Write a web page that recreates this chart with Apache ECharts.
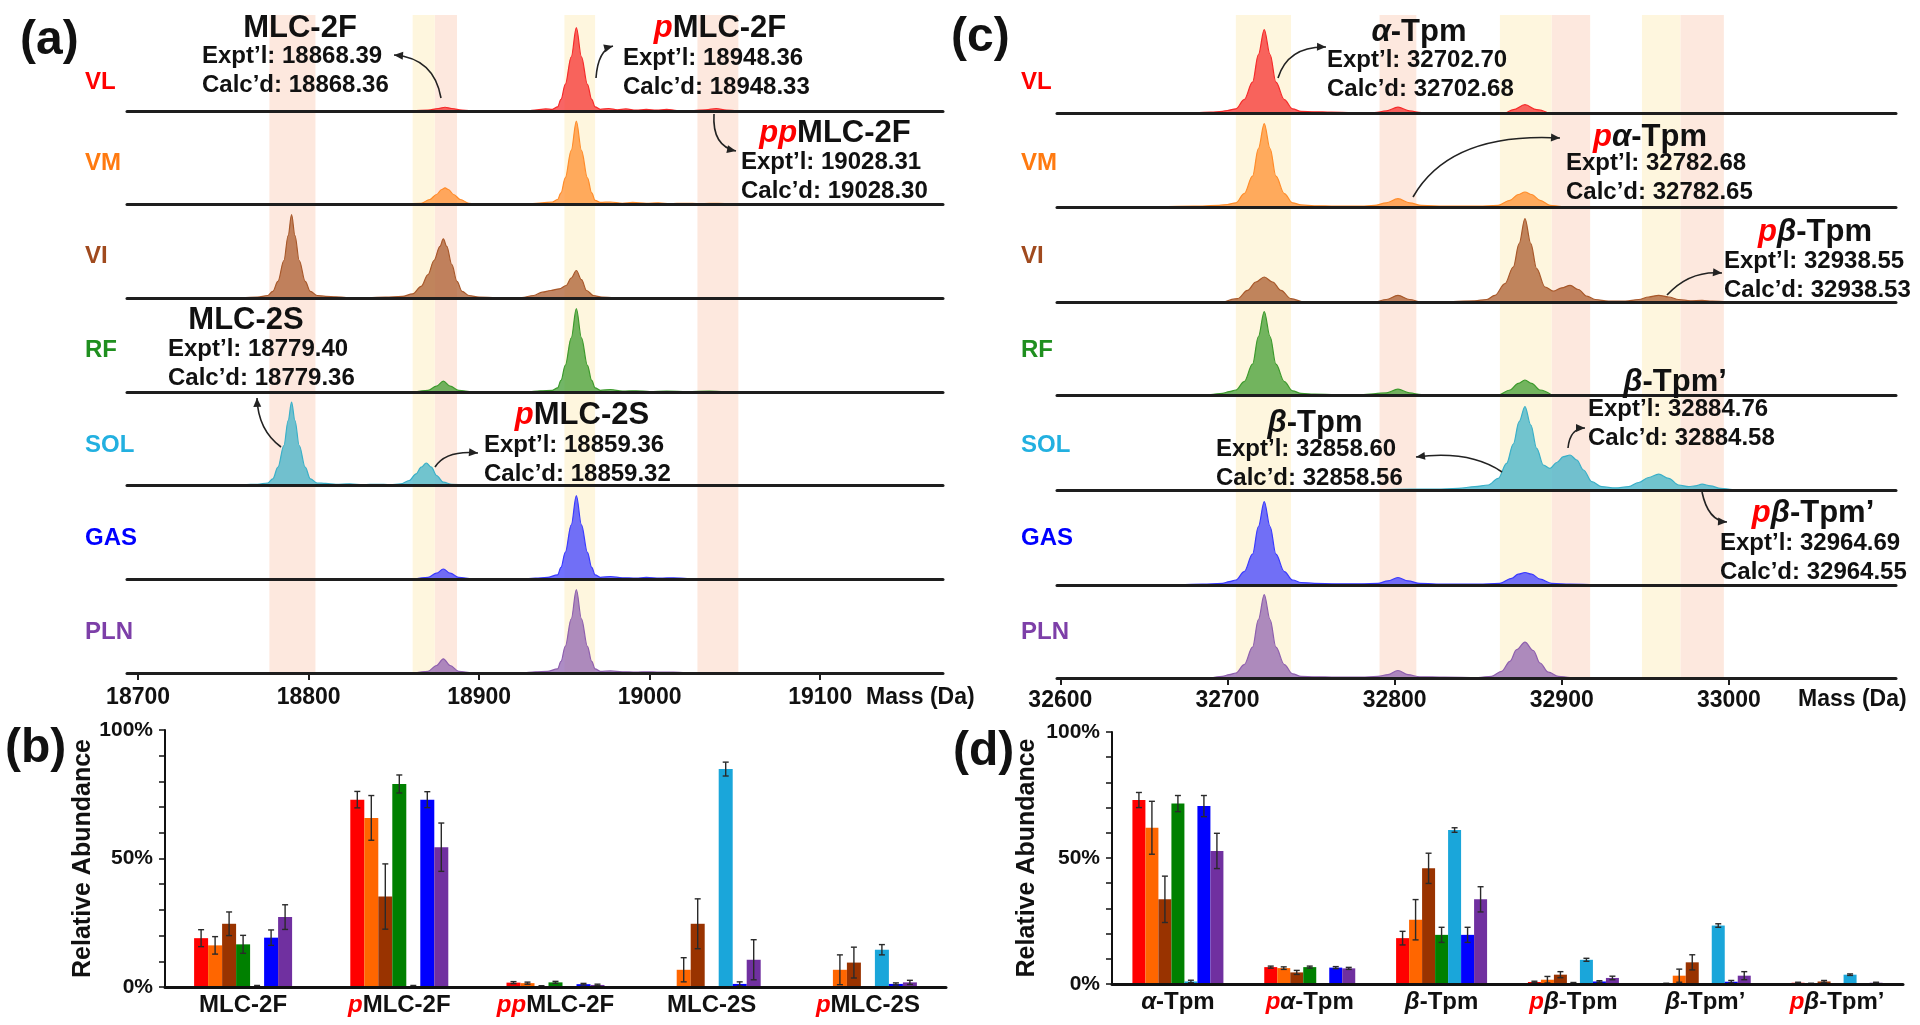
<!DOCTYPE html>
<html>
<head>
<meta charset="utf-8">
<title>MLC-2 and Tpm proteoforms</title>
<script src="https://cdn.jsdelivr.net/npm/echarts@6/dist/echarts.min.js"></script>
<style>
html,body{margin:0;padding:0;background:#fff;}
#chart{width:1920px;height:1025px;}
</style>
</head>
<body>
<div id="chart"></div>
<script>
// ---- data ----
var traceNames = ['VL', 'VM', 'VI', 'RF', 'SOL', 'GAS', 'PLN'];
var massTicksA = [18700, 18800, 18900, 19000, 19100];
var massTicksC = [32600, 32700, 32800, 32900, 33000];

var salmonBandsA = [[18777, 18804], [18874, 18887], [19028, 19052]];
var yellowBandsA = [[18861, 18874], [18950, 18968]];
var salmonBandsC = [[32791, 32813], [32894, 32917], [32971, 32997]];
var yellowBandsC = [[32705, 32738], [32863, 32894], [32948, 32971]];

// spectra (mass in Da, normalised intensity)
var specA_VL = [[18860,0],[18870,1],[18876,3],[18880,4.5],[18884,3],[18890,1],[18898,0],[18928,0],[18934,1.5],[18939,2.5],[18943,2],[18946,5],[18948,14],[18950.5,32],[18954,65],[18957,100],[18960,65],[18963.5,32],[18966,14],[18968,5],[18971,2],[18976,3],[18981,1.5],[18986,2.5],[18992,1],[18998,2],[19004,1],[19010,2],[19016,0.5],[19026,0.5],[19033,1.5],[19039,3],[19045,1],[19052,0]];
var specA_VM = [[18855,0],[18866,1.5],[18871,6],[18875,12],[18878,18],[18880,20],[18882,18],[18885,12],[18889,6],[18894,1.5],[18902,0],[18920,0.5],[18930,1],[18937,2],[18943,3],[18946,6],[18948,14],[18950.5,32],[18954,65],[18957,100],[18960,65],[18963.5,32],[18966,14],[18968,5],[18971,2.5],[18977,3],[18984,1.5],[18990,2.5],[18998,1.5],[19005,2],[19012,1],[19020,1.5],[19030,1],[19040,1.5],[19048,0.5],[19055,0]];
var specA_VI = [[18760,0],[18770,1],[18776,3],[18779,8],[18782,20],[18785.5,45],[18788,75],[18790,100],[18792,75],[18794.5,45],[18798,20],[18801,8],[18805,3],[18810,2],[18816,1.5],[18822,0.5],[18835,0.5],[18845,1],[18855,2],[18861,5],[18866,14],[18870,28],[18873.5,45],[18877,62],[18879,71],[18881,62],[18884,40],[18887,20],[18890,8],[18894,3],[18900,1],[18910,0.5],[18925,0.5],[18932,3],[18937,7],[18942,9],[18947,11],[18951,15],[18954,24],[18957,33],[18960,22],[18963,9],[18967,3],[18972,1],[18980,0]];
var specA_RF = [[18862,0],[18870,2],[18875,7],[18879,13],[18883,7],[18888,2],[18896,0],[18928,0],[18936,1.5],[18943,2],[18946,5],[18948,14],[18950.5,32],[18954,65],[18957,100],[18960,65],[18963.5,32],[18966,14],[18968,5],[18971,2],[18977,3],[18984,1],[18992,1.5],[19000,0.5],[19010,1],[19022,0.5],[19035,1],[19045,0]];
var specA_SOL = [[18750,0],[18762,1],[18770,1.5],[18776,3],[18779,8],[18782,22],[18785.5,48],[18788,78],[18790,100],[18792,78],[18794.5,48],[18798,22],[18801,8],[18805,3],[18810,2.5],[18816,1.5],[18824,2],[18832,1],[18840,1.5],[18848,1],[18854,2],[18859,6],[18863,14],[18866,22],[18869,27],[18872,22],[18875,12],[18879,4],[18884,1.5],[18892,0.5],[18902,1],[18912,0.5],[18920,0]];
var specA_GAS = [[18862,0],[18870,2],[18875,7],[18879,12],[18883,7],[18888,2],[18896,0],[18925,0],[18933,1],[18940,2],[18946,5],[18948,14],[18950.5,32],[18954,65],[18957,100],[18960,65],[18963.5,32],[18966,14],[18968,5],[18971,2],[18977,3],[18984,1.5],[18992,1],[18998,2],[19006,1],[19014,1.5],[19022,0.5],[19030,0]];
var specA_PLN = [[18862,0],[18870,2],[18875,9],[18879,17],[18883,9],[18888,2],[18896,0],[18925,0],[18933,1.5],[18940,2],[18946,5],[18948,14],[18950.5,32],[18954,65],[18957,100],[18960,65],[18963.5,32],[18966,14],[18968,5],[18971,2],[18977,2.5],[18984,1.5],[18992,1],[18998,1.5],[19006,1],[19014,1],[19022,0]];

var specC_VL = [[32680,0],[32690,1],[32697,2],[32700,3],[32705,5],[32710,16],[32715,37],[32718.5,70],[32722,100],[32725.5,70],[32729,37],[32734,16],[32739,5],[32744,2],[32752,1.5],[32762,1],[32775,0.5],[32788,0.5],[32795,2.5],[32802,7],[32809,2.5],[32816,0.5],[32830,0.5],[32845,0],[32866,0],[32871,4],[32878,10],[32885,4],[32892,0]];
var specC_VM = [[32645,0],[32660,0.5],[32680,1],[32695,2],[32700,3],[32705,5],[32710,16],[32715,37],[32718.5,70],[32722,100],[32725.5,70],[32729,37],[32734,16],[32739,5],[32744,2.5],[32752,1.5],[32765,1],[32780,1],[32788,2],[32795,5],[32802,10],[32809,5],[32816,2],[32830,1],[32850,1],[32862,2],[32869,8],[32874,15],[32878,18],[32882,15],[32887,8],[32893,2],[32900,0.5],[32915,0]];
var specC_VI = [[32698,0],[32706,4],[32712,14],[32717,24],[32722,30],[32727,24],[32732,14],[32738,4],[32746,0],[32788,0],[32795,3],[32802,8],[32809,3],[32816,0],[32835,0.5],[32848,1.5],[32855,3],[32860,8],[32866,22],[32871,42],[32874.5,70],[32878,100],[32881.5,70],[32885,40],[32890,18],[32895,13],[32900,17],[32905,20],[32910,15],[32915,7],[32920,3],[32928,1],[32938,1],[32946,3],[32952,6],[32958,8],[32964,6],[32970,3],[32977,1.5],[32984,2],[32990,1],[33000,0]];
var specC_RF = [[32680,0],[32690,0.5],[32697,2],[32701,4],[32705,6],[32710,16],[32715,37],[32718.5,70],[32722,100],[32725.5,70],[32729,37],[32734,16],[32739,5],[32744,2],[32752,1],[32765,0.5],[32780,0.5],[32795,2.5],[32802,7],[32809,2.5],[32816,0.5],[32830,0.5],[32845,0],[32862,0],[32869,6],[32874,14],[32878,18],[32882,14],[32887,6],[32894,0]];
var specC_SOL = [[32770,0],[32790,0.5],[32810,1],[32825,1],[32838,2],[32848,4],[32856,6],[32862,14],[32867,32],[32871,55],[32874.5,82],[32878,100],[32881.5,78],[32885,50],[32889,30],[32893,26],[32897,33],[32901,40],[32905,42],[32909,36],[32913,24],[32918,10],[32924,4],[32932,2.5],[32940,4],[32946,9],[32952,15],[32958,19],[32964,14],[32970,6],[32976,4],[32980,5],[32984,7],[32989,5],[32995,2],[33002,0.5],[33015,0]];
var specC_GAS = [[32670,0],[32685,1],[32697,2],[32701,4],[32705,6],[32710,16],[32715,37],[32718.5,70],[32722,100],[32725.5,70],[32729,37],[32734,16],[32739,6],[32744,3],[32752,2],[32765,1.5],[32780,1.5],[32790,2],[32796,5],[32802,9],[32808,5],[32815,2],[32830,1],[32850,1],[32863,2],[32870,8],[32874,13],[32878,15],[32882,13],[32887,7],[32894,2],[32905,1],[32920,0.5],[32935,0]];
var specC_PLN = [[32690,0],[32697,2],[32701,4],[32705,6],[32710,16],[32715,37],[32718.5,70],[32722,100],[32725.5,70],[32729,37],[32734,16],[32739,5],[32744,2],[32752,1.5],[32765,1],[32780,1],[32790,2],[32796,4],[32802,9],[32808,4],[32815,1.5],[32830,1],[32850,0.5],[32858,2],[32864,8],[32869,20],[32873,34],[32878,43],[32883,33],[32887,18],[32892,7],[32898,2],[32905,0.5],[32915,0]];

// relative abundance (%), one array per muscle, with standard deviations
var mlcCats = ['MLC-2F', 'pMLC-2F', 'ppMLC-2F', 'MLC-2S', 'pMLC-2S'];
var mlcVL  = [19.0, 72.9, 1.7, 0, 0],     mlcErrVL  = [3.3, 3.2, 0.4, 0, 0];
var mlcVM  = [16.2, 65.8, 1.5, 6.7, 6.7], mlcErrVM  = [3.4, 8.7, 0.4, 4.7, 5.8];
var mlcVI  = [24.6, 35.2, 0.3, 24.6, 9.5],mlcErrVI  = [4.6, 12.7, 0.2, 9.7, 6.0];
var mlcRF  = [16.6, 79.0, 1.8, 0, 0],     mlcErrRF  = [3.5, 3.5, 0.4, 0, 0];
var mlcSOL = [0.3, 0.3, 0, 84.8, 14.5],   mlcErrSOL = [0.3, 0.3, 0, 2.7, 2.0];
var mlcGAS = [19.2, 72.9, 1.1, 1.2, 1.2], mlcErrGAS = [3.0, 3.1, 0.3, 0.8, 0.4];
var mlcPLN = [27.2, 54.4, 0.8, 10.6, 1.8],mlcErrPLN = [4.8, 9.4, 0.3, 7.8, 0.8];

var tpmCats = ['α-Tpm', 'pα-Tpm', 'β-Tpm', 'pβ-Tpm', 'β-Tpm’', 'pβ-Tpm’'];
var tpmVL  = [73.0, 6.7, 18.2, 0.8, 0.2, 0.5], tpmErrVL  = [3.0, 0.4, 2.7, 0.3, 0.1, 0.2];
var tpmVM  = [62.0, 6.3, 25.5, 1.7, 3.3, 0.2], tpmErrVM  = [10.5, 0.5, 8.0, 1.3, 2.6, 0.1];
var tpmVI  = [33.6, 4.6, 45.9, 3.7, 8.6, 1.0], tpmErrVI  = [9.2, 0.8, 6.0, 1.2, 3.0, 0.4];
var tpmRF  = [71.6, 6.7, 19.5, 0.4, 0, 0],     tpmErrRF  = [3.2, 0.4, 3.0, 0.2, 0, 0];
var tpmSOL = [1.0, 0, 61.1, 9.6, 23.2, 3.7],   tpmErrSOL = [0.5, 0, 0.9, 0.6, 0.7, 0.3];
var tpmGAS = [70.6, 6.5, 19.5, 1.0, 0.9, 0],   tpmErrGAS = [4.2, 0.4, 3.0, 0.3, 0.5, 0];
var tpmPLN = [52.8, 6.2, 33.6, 2.4, 3.3, 0.5], tpmErrPLN = [7.0, 0.4, 5.0, 0.7, 1.6, 0.2];

// ---- styling / layout ----
var FONT = "'Liberation Sans', Arial, sans-serif";
var labelColors = ['#ff0000', '#ff7a10', '#a04a1e', '#1f8f1f', '#22b0e0', '#0000ff', '#7d3fa8'];
var traceColors = ['#f52a2a', '#ff8c2a', '#a8582a', '#3c9a2c', '#3ab0c8', '#3a3aff', '#8e5fae'];
var barColors = ['#ff0000', '#ff6600', '#993300', '#008000', '#1aa6da', '#0000ff', '#7030a0'];
var baselinesA = [111, 204.5, 298, 392, 485.5, 579, 673];
var baselinesC = [113, 207, 302, 395, 490, 585, 678];
var labelY = [82, 163, 256, 350, 445, 538, 632];

var grid = [], xAxis = [], yAxis = [], series = [], graphic = [];

function addSpectra(spectra, baselines, left, width, xmin, xmax, ticks, margin, salmon, yellow) {
  // background bands
  var gb = grid.length;
  grid.push({left: left, width: width, top: 15, height: baselines[6] - 15, outerBoundsMode: 'none'});
  xAxis.push({gridIndex: gb, type: 'value', min: xmin, max: xmax, show: false});
  yAxis.push({gridIndex: gb, type: 'value', min: 0, max: 1, show: false});
  var areas = [];
  salmon.forEach(function (b) { areas.push([{xAxis: b[0], itemStyle: {color: '#fde8de'}}, {xAxis: b[1]}]); });
  yellow.forEach(function (b) { areas.push([{xAxis: b[0], itemStyle: {color: '#fef6de'}}, {xAxis: b[1]}]); });
  series.push({type: 'line', xAxisIndex: gb, yAxisIndex: gb, data: [[xmin, 0]], symbol: 'none', z: 1,
    lineStyle: {opacity: 0}, silent: true, markArea: {silent: true, data: areas}});

  spectra.forEach(function (pts, i) {
    var gi = grid.length;
    var last = i === spectra.length - 1;
    grid.push({left: left, width: width, top: baselines[i] - 90, height: 90, outerBoundsMode: 'none'});
    xAxis.push({gridIndex: gi, type: 'value', min: xmin, max: xmax, z: 5,
      axisLine: {show: true, lineStyle: {color: '#1e1e1e', width: 3}},
      axisTick: {show: last, customValues: ticks, length: 7, lineStyle: {color: '#1e1e1e', width: 2}},
      axisLabel: {show: last, customValues: ticks, margin: margin, fontSize: 23, fontWeight: 'bold', color: '#111', fontFamily: FONT,
        formatter: function (v) { return String(v); }},
      splitLine: {show: false}});
    yAxis.push({gridIndex: gi, type: 'value', min: 0, max: 108, show: false});
    series.push({type: 'line', xAxisIndex: gi, yAxisIndex: gi, data: pts, smooth: 0.35, smoothMonotone: 'x',
      symbol: 'none', z: 3, lineStyle: {color: traceColors[i], width: 1.2},
      areaStyle: {color: traceColors[i], opacity: 0.72}});
  });
}

addSpectra([specA_VL, specA_VM, specA_VI, specA_RF, specA_SOL, specA_GAS, specA_PLN],
  baselinesA, 127, 816, 18693.5, 19172, massTicksA, 13, salmonBandsA, yellowBandsA);
addSpectra([specC_VL, specC_VM, specC_VI, specC_RF, specC_SOL, specC_GAS, specC_PLN],
  baselinesC, 1057, 839, 32598, 33100, massTicksC, 11, salmonBandsC, yellowBandsC);

// rich names: red italic p-prefix, italic greek letter
function richName(s) {
  var m = s.match(/^(p*)([αβ]?)(.*)$/);
  var out = '';
  if (m[1]) out += '{p|' + m[1] + '}';
  if (m[2]) out += '{g|' + m[2] + '}';
  return out + '{n|' + m[3] + '}';
}
function richStyles(size) {
  return {
    p: {color: '#ff0000', fill: '#ff0000', fontStyle: 'italic', fontWeight: 'bold', fontSize: size, fontFamily: FONT},
    g: {color: '#111', fill: '#111', fontStyle: 'italic', fontWeight: 'bold', fontSize: size, fontFamily: FONT},
    n: {color: '#111', fill: '#111', fontWeight: 'bold', fontSize: size, fontFamily: FONT}
  };
}

function errRenderer(bw) {
  return function (params, api) {
    var cat = api.value(0), k = api.value(1), v = api.value(2), e = api.value(3);
    var x = api.coord([cat, v])[0] + (k - 3) * bw;
    var yTop = api.coord([cat, v + e])[1];
    var yBot = api.coord([cat, Math.max(0, v - e)])[1];
    var st = {stroke: '#2a2a2a', lineWidth: 1.4};
    return {type: 'group', children: [
      {type: 'line', shape: {x1: x, y1: yTop, x2: x, y2: yBot}, style: st},
      {type: 'line', shape: {x1: x - 3, y1: yTop, x2: x + 3, y2: yTop}, style: st},
      {type: 'line', shape: {x1: x - 3, y1: yBot, x2: x + 3, y2: yBot}, style: st}
    ]};
  };
}

function addBars(cats, vals, errs, box, bw, nameGap) {
  var gi = grid.length;
  grid.push({left: box[0], width: box[1], top: box[2], height: box[3], outerBoundsMode: 'none'});
  xAxis.push({gridIndex: gi, type: 'category', data: cats, z: 5,
    axisLine: {show: true, lineStyle: {color: '#111', width: 3}},
    axisTick: {show: false},
    axisLabel: {interval: 0, margin: 6, formatter: richName, rich: richStyles(24)}});
  yAxis.push({gridIndex: gi, type: 'value', min: 0, max: 100, interval: 50,
    name: 'Relative Abundance', nameLocation: 'middle', nameGap: nameGap,
    nameTextStyle: {fontSize: 25, fontWeight: 'bold', color: '#111', fontFamily: FONT},
    axisLine: {show: true, lineStyle: {color: '#111', width: 2}},
    axisTick: {show: true, length: 6, lineStyle: {color: '#111', width: 1.5}},
    minorTick: {show: true, splitNumber: 5, length: 6, lineStyle: {color: '#111', width: 1.5}},
    axisLabel: {formatter: '{value}%', margin: 12, fontSize: 21, fontWeight: 'bold', color: '#111', fontFamily: FONT},
    splitLine: {show: false}});
  var errData = [];
  vals.forEach(function (v, k) {
    series.push({type: 'bar', name: traceNames[k], xAxisIndex: gi, yAxisIndex: gi, data: v,
      barWidth: bw, barGap: '0%', z: 2, itemStyle: {color: barColors[k]}});
    errs[k].forEach(function (e, c) { if (e > 0) errData.push([c, k, v[c], e]); });
  });
  series.push({type: 'custom', xAxisIndex: gi, yAxisIndex: gi, data: errData, z: 4,
    encode: {x: 0, y: 2}, renderItem: errRenderer(bw)});
}

addBars(mlcCats, [mlcVL, mlcVM, mlcVI, mlcRF, mlcSOL, mlcGAS, mlcPLN],
  [mlcErrVL, mlcErrVM, mlcErrVI, mlcErrRF, mlcErrSOL, mlcErrGAS, mlcErrPLN],
  [165, 781, 730, 257], 14, 68);
addBars(tpmCats, [tpmVL, tpmVM, tpmVI, tpmRF, tpmSOL, tpmGAS, tpmPLN],
  [tpmErrVL, tpmErrVM, tpmErrVI, tpmErrRF, tpmErrSOL, tpmErrGAS, tpmErrPLN],
  [1112, 791, 732, 252], 13, 72);

// ---- text and arrows ----
function txt(x, y, text, size, align, color) {
  graphic.push({type: 'text', x: x, y: y, z: 10, style: {text: text, fill: color || '#111',
    font: 'bold ' + size + 'px ' + FONT, align: align || 'left', verticalAlign: 'middle'}});
}
function richTxt(x, y, text, size) {
  graphic.push({type: 'text', x: x, y: y, z: 10, style: {text: richName(text), rich: richStyles(size),
    font: 'bold ' + size + 'px ' + FONT, align: 'center', verticalAlign: 'middle'}});
}
function arrow(a) {
  var x1 = a[0], y1 = a[1], cx = a[2], cy = a[3], x2 = a[4], y2 = a[5];
  graphic.push({type: 'bezierCurve', z: 10, shape: {x1: x1, y1: y1, cpx1: cx, cpy1: cy, x2: x2, y2: y2},
    style: {stroke: '#222', lineWidth: 1.6, fill: null}});
  var ang = Math.atan2(y2 - cy, x2 - cx), s = 9, w = 4;
  var bx = x2 - s * Math.cos(ang), by = y2 - s * Math.sin(ang);
  graphic.push({type: 'polygon', z: 10, shape: {points: [[x2, y2],
    [bx - w * Math.sin(ang), by + w * Math.cos(ang)], [bx + w * Math.sin(ang), by - w * Math.cos(ang)]]},
    style: {fill: '#222'}});
}

// peak annotations: title centre x/y, left x of detail lines, first detail line y
var notes = [
  ['MLC-2F', 300, 28, 202, 56, '18868.39', '18868.36'],
  ['pMLC-2F', 720, 28, 623, 58, '18948.36', '18948.33'],
  ['ppMLC-2F', 835, 133, 741, 162, '19028.31', '19028.30'],
  ['MLC-2S', 246, 320, 168, 349, '18779.40', '18779.36'],
  ['pMLC-2S', 582, 415, 484, 445, '18859.36', '18859.32'],
  ['α-Tpm', 1419, 32, 1327, 60, '32702.70', '32702.68'],
  ['pα-Tpm', 1650, 137, 1566, 163, '32782.68', '32782.65'],
  ['pβ-Tpm', 1815, 232, 1724, 261, '32938.55', '32938.53'],
  ['β-Tpm’', 1675, 382, 1588, 409, '32884.76', '32884.58'],
  ['β-Tpm', 1315, 423, 1216, 449, '32858.60', '32858.56'],
  ['pβ-Tpm’', 1813, 513, 1720, 543, '32964.69', '32964.55']
];
notes.forEach(function (n) {
  richTxt(n[1], n[2], n[0], 31);
  txt(n[3], n[4], 'Expt’l: ' + n[5], 24);
  txt(n[3], n[4] + 29, 'Calc’d: ' + n[6], 24);
});

var arrows = [
  [441, 98, 434, 58, 394, 55],
  [596, 78, 598, 50, 613, 46],
  [714, 114, 712, 146, 736, 151],
  [281, 447, 258, 430, 257, 398],
  [435, 467, 446, 450, 478, 453],
  [1278, 78, 1288, 46, 1326, 47],
  [1413, 197, 1450, 132, 1560, 138],
  [1667, 295, 1690, 270, 1722, 273],
  [1568, 448, 1570, 428, 1585, 428],
  [1502, 472, 1470, 450, 1416, 457],
  [1702, 492, 1708, 521, 1727, 522]
];
arrows.forEach(arrow);

// trace names and panel letters
traceNames.forEach(function (t, i) {
  txt(85, labelY[i], t, 24, 'left', labelColors[i]);
  txt(1021, labelY[i], t, 24, 'left', labelColors[i]);
});
txt(20, 41, '(a)', 48);
txt(951, 38, '(c)', 48);
txt(5, 749, '(b)', 48);
txt(953, 752, '(d)', 48);
txt(866, 698, 'Mass (Da)', 23);
txt(1798, 700, 'Mass (Da)', 23);

var chart = echarts.init(document.getElementById('chart'));
chart.setOption({
  animation: false,
  backgroundColor: '#ffffff',
  grid: grid,
  xAxis: xAxis,
  yAxis: yAxis,
  series: series,
  graphic: graphic
});
</script>
</body>
</html>
